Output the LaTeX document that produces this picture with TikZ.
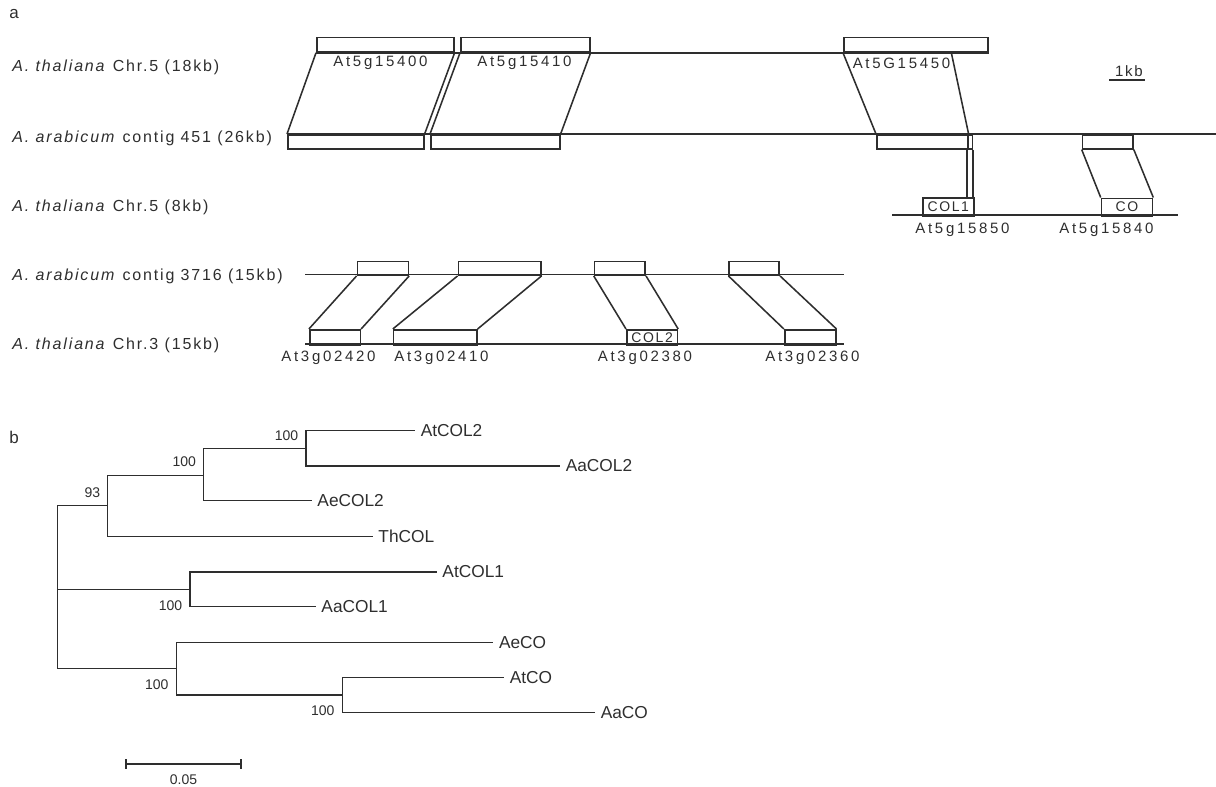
\documentclass[tikz,border=0pt]{standalone}
\usepackage{fontspec}
\setmainfont{Liberation Sans}
\newfontfamily\spacedfont[LetterSpace=11.5]{Liberation Sans}
\newfontfamily\widefont[LetterSpace=18]{Liberation Sans}

\usetikzlibrary{positioning, calc}

\newcommand\rowfont{\spacedfont\fontsize{16}{18}\selectfont}
\newcommand\genefont{\widefont\fontsize{15}{17}\selectfont}

\begin{document}
\begin{tikzpicture}[
    x=1pt, y=-1pt, color=black!82, line width=1.55pt,
    genebox/.style={
        draw, line width=1.6pt, inner sep=0pt, anchor=north west,
        font=\spacedfont\fontsize{14}{14}\selectfont
    },
    rowlabel/.style={anchor=west, inner sep=0pt, font=\rowfont},
    genename/.style={inner sep=0pt, font=\genefont},
    leaf/.style={anchor=west, inner xsep=5pt, inner ysep=0pt, font=\fontsize{17.3}{19}\selectfont},
    boot/.style={anchor=east, inner sep=0pt, font=\fontsize{14}{15}\selectfont},
    panel/.style={inner sep=0pt, font=\fontsize{17}{19}\selectfont},
]
\useasboundingbox (0,0) rectangle (1216,787);

\node[panel] (pa) at (14,14) {a};
\node[panel] (pb) at (14,437) {b};

% row labels
\node[rowlabel] (r1) at (11.7,67.3)  {\textit{A. thaliana} Chr.5 (18kb)};
\node[rowlabel] (r2) at (11.7,138.3) {\textit{A. arabicum} contig 451 (26kb)};
\node[rowlabel] (r3) at (11.7,207.7) {\textit{A. thaliana} Chr.5 (8kb)};
\node[rowlabel] (r4) at (11.7,276.7) {\textit{A. arabicum} contig 3716 (15kb)};
\node[rowlabel] (r5) at (11.7,345)   {\textit{A. thaliana} Chr.3 (15kb)};

% A. thaliana Chr.5 (18kb)
\node[genebox, minimum width=137pt, minimum height=14.5pt] (t1) at (316,36.7) {};
\node[genebox, minimum width=129pt, minimum height=14.5pt] (t2) at (460,36.7) {};
\node[genebox, minimum width=144pt, minimum height=14.5pt] (t3) at (843,36.7) {};
\draw (t1.south west) -- (t3.south east);
\node[genename] (g1) at (380.5,63) {At5g15400};
\node[genename] (g2) at (524.5,63) {At5g15410};
\node[genename] (g3) at (901.5,63) {At5G15450};
\coordinate (t3r) at (951,51.2);

% A. arabicum contig 451 (26kb)
\node[genebox, minimum width=136pt, minimum height=14pt] (a1) at (287,134) {};
\node[genebox, minimum width=129pt, minimum height=14pt] (a2) at (430,134) {};
\node[genebox, minimum width=91pt, minimum height=14pt] (a3) at (876,134) {};
\node[genebox, minimum width=4.5pt, minimum height=14pt] (a4) at (967,134) {};
\node[genebox, minimum width=50.5pt, minimum height=14pt] (a5) at (1081.7,134) {};
\coordinate (l2e) at (1216,134);
\draw (a1.north west) -- (l2e);

% A. thaliana Chr.5 (8kb)
\node[genebox, minimum width=51pt, minimum height=18pt] (c1) at (922,197) {COL1};
\node[genebox, minimum width=51pt, minimum height=17.5pt] (c2) at (1100.7,197.5) {CO};
\coordinate (l3s) at (892,215);
\coordinate (l3e) at (1178,215);
\draw (l3s) -- (l3e);
\node[genename] (g4) at (962.5,230) {At5g15850};
\node[genename] (g5) at (1106.5,230) {At5g15840};

% links between rows 1, 2 and 3
\draw (t1.south west) -- (a1.north west) (t1.south east) -- (a1.north east);
\draw (t2.south west) -- (a2.north west) (t2.south east) -- (a2.north east);
\draw (t3.south west) -- (a3.north west) (t3r) -- (a3.north east);
\draw (a4.south west) -- (a4.south west |- c1.north) (a4.south east) -- (a4.south east |- c1.north);
\draw (a5.south west) -- (c2.north west) (a5.south east) -- (c2.north east);

% scale 1kb
\node[genename, font=\spacedfont\fontsize{15}{17}\selectfont] (kb) at (1129,71) {1kb};
\coordinate (kbl) at (1109,80);
\coordinate (kbr) at (1145,80);
\draw (kbl) -- (kbr);

% A. arabicum contig 3716 (15kb)
\node[genebox, minimum width=51pt, minimum height=13.6pt] (u1) at (356.6,260.7) {};
\node[genebox, minimum width=82.4pt, minimum height=13.6pt] (u2) at (457.6,260.7) {};
\node[genebox, minimum width=50.7pt, minimum height=13.6pt] (u3) at (593.7,260.7) {};
\node[genebox, minimum width=50pt, minimum height=13.6pt] (u4) at (728.4,260.7) {};
\coordinate (l4s) at (305,274.3);
\coordinate (l4e) at (844,274.3);
\draw (l4s) -- (l4e);

% A. thaliana Chr.3 (15kb)
\node[genebox, minimum width=50.6pt, minimum height=15pt] (v1) at (308.9,329) {};
\node[genebox, minimum width=83.2pt, minimum height=15pt] (v2) at (392.8,329) {};
\node[genebox, minimum width=50.6pt, minimum height=15pt] (v3) at (626,329) {COL2};
\node[genebox, minimum width=51pt, minimum height=15pt] (v4) at (783.9,329) {};
\coordinate (l5s) at (305,344);
\coordinate (l5e) at (844,344);
\draw (l5s) -- (l5e);
\node[genename] (g6) at (328.5,358) {At3g02420};
\node[genename] (g7) at (441.5,358) {At3g02410};
\node[genename] (g8) at (645,358) {At3g02380};
\node[genename] (g9) at (812.5,358) {At3g02360};

\foreach \i in {1,...,4} {
    \draw (u\i.south west) -- (v\i.north west) (u\i.south east) -- (v\i.north east);
}

% tree
\coordinate (root) at (57.3,589.3);
\coordinate (n93) at (107.7,505.7);
\coordinate (nA) at (203.7,475.3);
\coordinate (nB) at (306,448.7);
\coordinate (nC) at (190,589.3);
\coordinate (nD) at (176.7,668.3);
\coordinate (nE) at (342.7,695);

\node[leaf] (atcol2) at (415,430.7) {AtCOL2};
\node[leaf] (aacol2) at (560,466)   {AaCOL2};
\node[leaf] (aecol2) at (311.7,500.7) {AeCOL2};
\node[leaf] (thcol)  at (372.7,536.7) {ThCOL};
\node[leaf] (atcol1) at (436.7,572) {AtCOL1};
\node[leaf] (aacol1) at (315.7,606.7) {AaCOL1};
\node[leaf] (aeco)   at (493.3,642.3) {AeCO};
\node[leaf] (atco)   at (504,677.3) {AtCO};
\node[leaf] (aaco)   at (595,712.7) {AaCO};

\draw (root) |- (n93) (root) -- (nC) (root) |- (nD);
\draw (n93) |- (nA) (n93) |- (thcol.west);
\draw (nA) |- (nB) (nA) |- (aecol2.west);
\draw (nB) |- (atcol2.west) (nB) |- (aacol2.west);
\draw (nC) |- (atcol1.west) (nC) |- (aacol1.west);
\draw (nD) |- (aeco.west) (nD) |- (nE);
\draw (nE) |- (atco.west) (nE) |- (aaco.west);

\node[boot] (bs1) at (299,435.7) {100};
\node[boot] (bs2) at (196.7,461.7) {100};
\node[boot] (bs3) at (101,492.7) {93};
\node[boot] (bs4) at (183,605.7) {100};
\node[boot] (bs5) at (169.3,685) {100};
\node[boot] (bs6) at (335.3,710.7) {100};

% scale 0.05
\coordinate (sbl) at (126,764);
\coordinate (sbr) at (241,764);
\draw (sbl) -- (sbr);
\draw ($(sbl)+(0,-5)$) -- ($(sbl)+(0,5)$) ($(sbr)+(0,-5)$) -- ($(sbr)+(0,5)$);
\node[boot, anchor=center] (sblab) at (183.5,780) {0.05};

\end{tikzpicture}
\end{document}
